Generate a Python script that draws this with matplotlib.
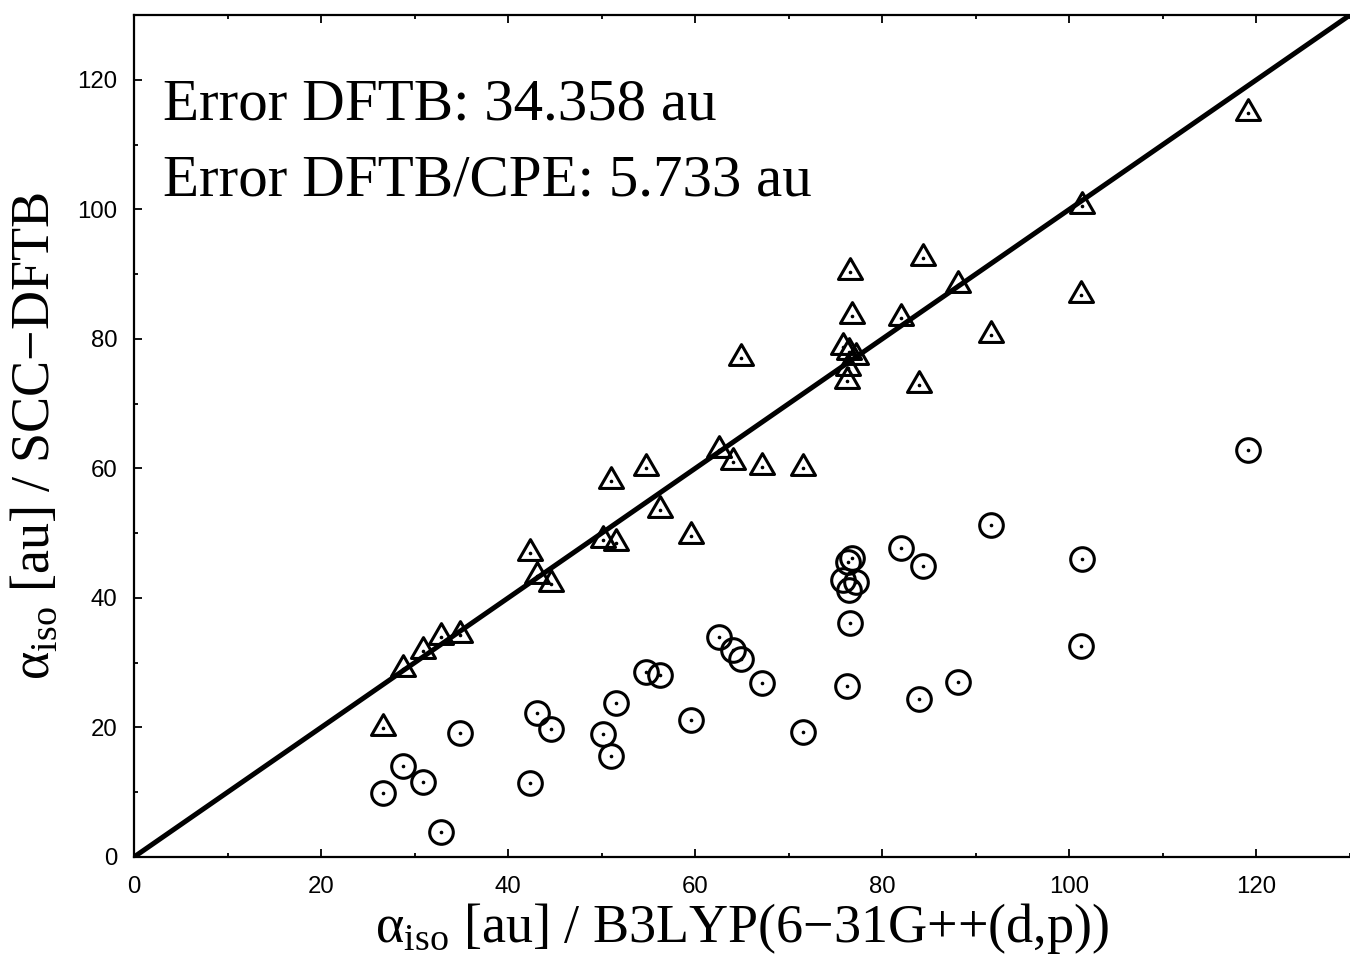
import numpy as np
import matplotlib.pyplot as plt
from matplotlib.path import Path
from matplotlib.ticker import MultipleLocator

plt.rcParams['font.family'] = ['Liberation Serif', 'DejaVu Serif']
plt.rcParams['mathtext.fontset'] = 'custom'
plt.rcParams['mathtext.rm'] = 'Liberation Serif'

# reference polarizabilities, B3LYP/6-31G++(d,p)  [au]
alpha_b3lyp = [26.6, 28.8, 30.9, 32.8, 34.9, 42.3, 43.1, 44.6, 50.1, 51.0,
               51.5, 54.7, 56.2, 59.5, 62.5, 64.0, 64.9, 67.1, 71.5, 75.8,
               76.2, 76.3, 76.4, 76.5, 76.8, 77.2, 82.0, 84.4, 83.9, 88.1,
               91.6, 101.3, 101.2, 119.1]

# plain SCC-DFTB (circles)
alpha_dftb = [9.9, 14.1, 11.6, 3.9, 19.2, 11.4, 22.2, 19.8, 19.0, 15.6,
              23.8, 28.6, 28.1, 21.2, 34.0, 32.0, 30.6, 26.9, 19.3, 42.8,
              26.4, 45.6, 41.2, 36.1, 46.2, 42.5, 47.7, 44.9, 24.4, 27.0,
              51.3, 46.0, 32.6, 62.9]

# SCC-DFTB/CPE (triangles)
alpha_cpe = [19.9, 29.0, 31.8, 34.0, 34.3, 47.0, 43.4, 42.2, 49.0, 58.1,
             48.5, 60.1, 53.6, 49.6, 62.9, 61.0, 77.1, 60.2, 60.1, 78.8,
             73.5, 75.5, 78.0, 90.3, 83.6, 77.2, 83.2, 92.5, 72.9, 88.3,
             80.6, 100.5, 86.8, 114.8]

diag = [0, 130]

# equilateral triangle centred on its centroid (gnuplot style)
tri = Path([(0, 1), (-0.866, -0.5), (0.866, -0.5), (0, 1)],
           [Path.MOVETO, Path.LINETO, Path.LINETO, Path.CLOSEPOLY])

fig = plt.figure(figsize=(13.5, 9.56), dpi=100)
ax = fig.add_axes([0.0993, 0.1036, 0.9007, 0.8807])

ax.plot(diag, diag, color='black', lw=3.6, solid_capstyle='butt', zorder=3)

ax.plot(alpha_b3lyp, alpha_dftb, ls='none', marker='o', ms=17, mfc='none',
        mec='black', mew=2.2, zorder=4)
ax.plot(alpha_b3lyp, alpha_cpe, ls='none', marker=tri, ms=20, mfc='none',
        mec='black', mew=2.2, zorder=4)
# centre dots
ax.plot(alpha_b3lyp, alpha_dftb, ls='none', marker='o', ms=1.6, color='black', zorder=5)
ax.plot(alpha_b3lyp, alpha_cpe, ls='none', marker='o', ms=1.6, color='black', zorder=5)

ax.set_xlim(0, 130)
ax.set_ylim(0, 130)
ax.xaxis.set_major_locator(MultipleLocator(20))
ax.yaxis.set_major_locator(MultipleLocator(20))
ax.xaxis.set_minor_locator(MultipleLocator(10))
ax.yaxis.set_minor_locator(MultipleLocator(10))
ax.tick_params(which='both', direction='in', top=True, right=False,
               width=1.3, labelsize=17.3, labelfontfamily='Liberation Sans')
ax.tick_params(which='major', length=6, pad=12)
ax.tick_params(which='minor', length=3)
ax.tick_params(axis='x', pad=14)
for side in ['left', 'bottom', 'top']:
    ax.spines[side].set_linewidth(1.6)
ax.spines['right'].set_visible(False)

ax.text(3.1, 113.9, 'Error DFTB: 34.358 au', fontsize=42.5)
ax.text(3.1, 102.2, 'Error DFTB/CPE: 5.733 au', fontsize=42.5)

ax.set_xlabel('α$_{\\rm iso}$ [au] / B3LYP(6−31G++(d,p))', fontsize=39)
ax.set_ylabel('α$_{\\rm iso}$ [au] / SCC−DFTB', fontsize=39)
ax.xaxis.set_label_coords(0.5, -0.052)
ax.yaxis.set_label_coords(-0.06, 0.5)

fig.savefig('out.png', dpi=100)
